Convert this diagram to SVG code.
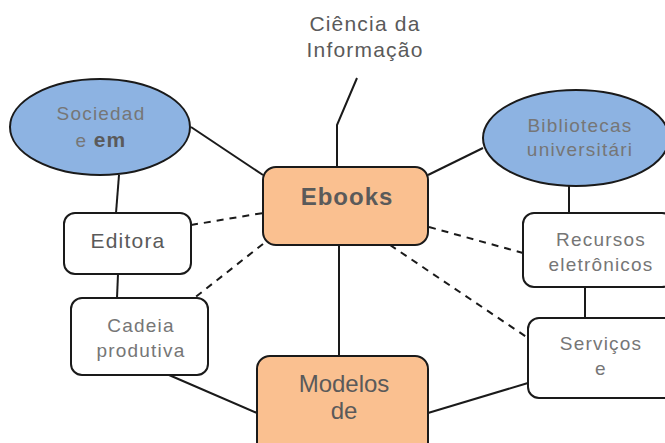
<svg xmlns="http://www.w3.org/2000/svg" width="665" height="443" viewBox="0 0 665 443">
<style>
.bg{fill:#fff}
.ell{fill:#8db3e2;stroke:#1a1a1a;stroke-width:2}
.main{fill:#fac090;stroke:#1a1a1a;stroke-width:2}
.box{fill:#fff;stroke:#1a1a1a;stroke-width:2}
.ln{stroke:#1a1a1a;stroke-width:2;fill:none}
.dash{stroke:#1a1a1a;stroke-width:2;fill:none;stroke-dasharray:7 6}
text{font-family:"Liberation Sans",Arial,sans-serif;text-anchor:middle}
.lt{font-size:19px;fill:#767676;letter-spacing:1.2px}
.dk{font-size:21px;fill:#5a5a5a;letter-spacing:1.2px}
.bd{font-size:24px;fill:#5a5a5a;font-weight:bold;letter-spacing:1px}
.md{font-size:24px;fill:#5a5a5a}
</style>
<rect class="bg" width="665" height="443"/>
<g id="connectors">
<polyline class="ln" points="357,78 337,125 337,167"/>
<line class="ln" x1="191" y1="127" x2="263" y2="175"/>
<line class="ln" x1="119" y1="175" x2="116" y2="213"/>
<line class="ln" x1="118" y1="274" x2="117" y2="298"/>
<line class="ln" x1="428" y1="175" x2="483" y2="148"/>
<line class="ln" x1="569" y1="186" x2="569" y2="213"/>
<line class="ln" x1="585" y1="287" x2="585" y2="318"/>
<line class="ln" x1="339" y1="245" x2="339" y2="356"/>
<line class="ln" x1="169" y1="375" x2="257" y2="413"/>
<line class="ln" x1="428" y1="413" x2="528" y2="383"/>
<line class="dash" x1="191" y1="225" x2="263" y2="213"/>
<line class="dash" x1="263" y1="244" x2="193" y2="299"/>
<line class="dash" x1="429" y1="227" x2="523" y2="253"/>
<line class="dash" x1="390" y1="245" x2="528" y2="338"/>
</g>
<g id="ciencia">
<text class="dk" x="365" y="31" font-size="20" letter-spacing="2">Ciência da</text>
<text class="dk" x="365" y="57" font-size="20" letter-spacing="2">Informação</text>
</g>
<g id="sociedad">
<ellipse class="ell" cx="100" cy="127" rx="90" ry="48"/>
<text class="lt" x="101" y="120">Sociedad</text>
<text class="lt" x="101" y="147">e <tspan font-weight="bold" fill="#5a5a5a" font-size="21">em</tspan></text>
</g>
<g id="bibliotecas">
<ellipse class="ell" cx="576" cy="138" rx="93" ry="48"/>
<text class="lt" x="580" y="132">Bibliotecas</text>
<text class="lt" x="580" y="156">universitári</text>
</g>
<g id="ebooks">
<rect class="main" x="263" y="167" width="165" height="78" rx="13"/>
<text class="bd" x="347" y="205">Ebooks</text>
</g>
<g id="editora">
<rect class="box" x="64" y="213" width="127" height="61" rx="11"/>
<text class="dk" x="128" y="248">Editora</text>
</g>
<g id="cadeia">
<rect class="box" x="71" y="298" width="137" height="77" rx="11"/>
<text class="lt" x="141" y="332">Cadeia</text>
<text class="lt" x="141" y="357">produtiva</text>
</g>
<g id="recursos">
<rect class="box" x="523" y="213" width="150" height="74" rx="11"/>
<text class="lt" x="601" y="246">Recursos</text>
<text class="lt" x="601" y="271">eletrônicos</text>
</g>
<g id="servicos">
<rect class="box" x="528" y="318" width="147" height="80" rx="11"/>
<text class="lt" x="601" y="350">Serviços</text>
<text class="lt" x="601" y="375">e</text>
</g>
<g id="modelos">
<rect class="main" x="257" y="356" width="171" height="100" rx="13"/>
<text class="md" x="344" y="392">Modelos</text>
<text class="md" x="344" y="419">de</text>
</g>
</svg>
